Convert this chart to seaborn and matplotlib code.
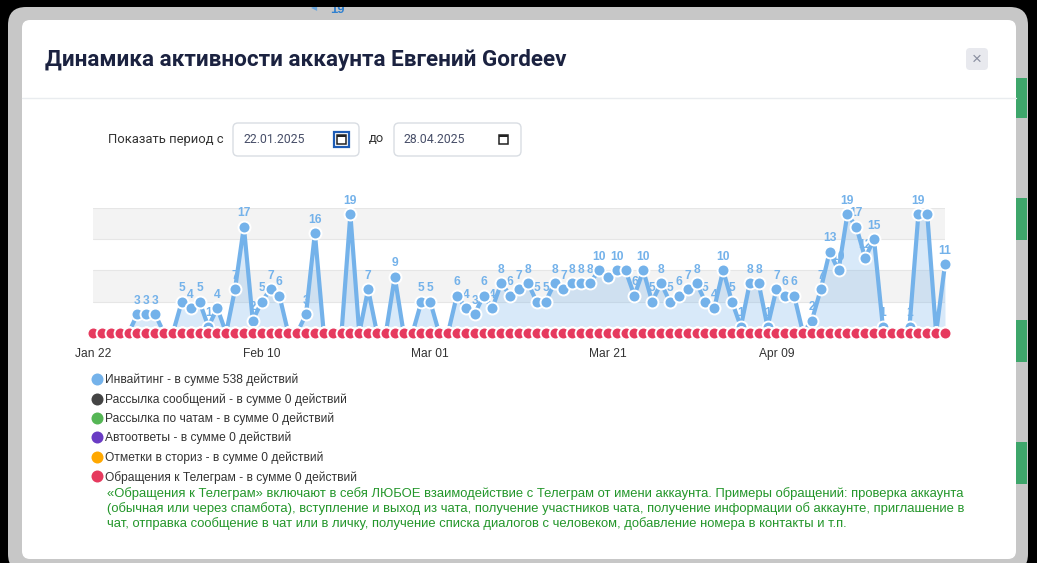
import matplotlib
matplotlib.use("Agg")
import matplotlib.pyplot as plt
from matplotlib.patches import FancyBboxPatch, Rectangle
from matplotlib.lines import Line2D
from matplotlib.transforms import IdentityTransform
import pandas as pd
import seaborn as sns

# data
start_date = "2025-01-22"
end_date = "2025-04-28"

inviting = [0, 0, 0, 0, 0, 3, 3, 3, 0, 0,
            5, 4, 5, 1, 4, 0, 7, 17, 2, 5,
            7, 6, 0, 0, 3, 16, 0, 0, 0, 19,
            0, 7, 0, 0, 9, 0, 0, 5, 5, 0,
            0, 6, 4, 3, 6, 4, 8, 6, 7, 8,
            5, 5, 8, 7, 8, 8, 8, 10, 9, 10,
            10, 6, 10, 5, 8, 5, 6, 7, 8, 5,
            4, 10, 5, 1, 8, 8, 1, 7, 6, 6,
            0, 2, 7, 13, 10, 19, 17, 12, 15, 1,
            0, 0, 1, 19, 19, 0, 11]
messages = [0] * len(inviting)
chat_mailing = [0] * len(inviting)
autoreplies = [0] * len(inviting)
story_marks = [0] * len(inviting)
telegram_requests = [0] * len(inviting)

series_names = ["Инвайтинг", "Рассылка сообщений", "Рассылка по чатам",
                "Автоответы", "Отметки в сториз", "Обращения к Телеграм"]
series_values = [inviting, messages, chat_mailing, autoreplies, story_marks, telegram_requests]
series_colors = ["#74b2ea", "#444444", "#55b655", "#6a3cc4", "#ffa800", "#e63a5e"]

tick_dates = ["2025-01-22", "2025-02-10", "2025-03-01", "2025-03-21", "2025-04-09"]
tick_labels = ["Jan 22", "Feb 10", "Mar 01", "Mar 21", "Apr 09"]

title = "Динамика активности аккаунта Евгений Gordeev"
period_from = "22.01.2025"
period_to = "28.04.2025"
note_lines = [
    "«Обращения к Телеграм» включают в себя ЛЮБОЕ взаимодействие с Телеграм от имени аккаунта. Примеры обращений: проверка аккаунта",
    "(обычная или через спамбота), вступление и выход из чата, получение участников чата, получение информации об аккаунте, приглашение в",
    "чат, отправка сообщение в чат или в личку, получение списка диалогов с человеком, добавление номера в контакты и т.п.",
]

dates = pd.date_range(start_date, end_date, freq="D")
rows = []
for name, vals in zip(series_names, series_values):
    for d, v in zip(dates, vals):
        rows.append({"date": d, "value": v, "series": name})
df = pd.DataFrame(rows)

sns.set_theme(style="white")
plt.rcParams["font.family"] = ["Liberation Sans", "DejaVu Sans"]

W, H = 1037, 563
PT = 0.72  # px -> pt at dpi 100
fig = plt.figure(figsize=(W / 100, H / 100), dpi=100, facecolor="black")
ident = IdentityTransform()


def box(x0, y0, x1, y1, r, **kw):
    p = FancyBboxPatch((x0, H - y1), x1 - x0, y1 - y0,
                       boxstyle=f"round,pad=0,rounding_size={r}", transform=ident, **kw)
    fig.add_artist(p)
    return p


def rect(x0, y0, x1, y1, **kw):
    p = Rectangle((x0, H - y1), x1 - x0, y1 - y0, transform=ident, **kw)
    fig.add_artist(p)
    return p


def text(x, y, s, size_px, **kw):
    kw.setdefault("va", "center")
    return fig.text(x, H - y, s, fontsize=size_px * PT, transform=ident, **kw)


# page behind the modal
box(8, 7, 1028, 572, 18, facecolor="#c7c7c7", edgecolor="none", zorder=0)
for y0, y1 in [(78, 118), (198, 240), (320, 362), (442, 484)]:
    rect(1016, y0, 1027, y1, facecolor="#3ea66b", edgecolor="none", zorder=0.5)
text(330, 10, "19", 13, color="#2f80d0", fontweight="bold", zorder=0.5)
text(311, 9, "◀", 8, color="#6fa8dc", zorder=0.5)
rect(290, 0, 380, 7, facecolor="black", edgecolor="none", zorder=0.6)

# modal
box(22, 20, 1016, 559, 8, facecolor="white", edgecolor="none", zorder=1)
text(45, 60, title, 22.5, color="#1b2240", fontweight="bold", family=["Roboto", "DejaVu Sans"], zorder=2)
box(966, 48, 988, 70, 4, facecolor="#e8e9ee", edgecolor="none", zorder=2)
text(977, 59, "×", 17, color="#8a8fa0", ha="center", zorder=3)
fig.add_artist(Line2D([22, 1016], [H - 98, H - 98], color="#e9ecef", lw=1, transform=ident, zorder=2))

# period inputs
ui_font = ["Roboto", "DejaVu Sans"]
text(108, 139, "Показать период с", 13, color="#333333", family=ui_font, zorder=2)
text(369, 139, "до", 13, color="#333333", family=ui_font, zorder=2)
for (x0, x1), val, focus in [((233, 359), period_from, True), ((394, 521), period_to, False)]:
    box(x0, 123, x1, 156, 5, facecolor="white", edgecolor="#d9dde3", lw=1, zorder=2)
    text(x0 + 10, 139.5, val, 12.2, color="#474e68", family=ui_font, zorder=3)
    cx = x1 - 18
    if focus:
        rect(cx - 7.5, 131.5, cx + 7.5, 146.5, facecolor="none", edgecolor="#1d5cb6", lw=1.6, zorder=3)
    rect(cx - 4.5, 134.5, cx + 4.5, 143.5, facecolor="none", edgecolor="#222222", lw=1.1, zorder=3)
    rect(cx - 4.5, 134.5, cx + 4.5, 137, facecolor="#222222", edgecolor="none", zorder=3)

# chart
ax = fig.add_axes([93 / W, (H - 333) / H, (945 - 93) / W, (333 - 208) / H], zorder=3)
ax.set_facecolor("none")
ax.axhspan(5, 10, color="#f3f3f3", zorder=0.1, lw=0)
ax.axhspan(15, 20, color="#f3f3f3", zorder=0.1, lw=0)
for g in [5, 10, 15, 20]:
    ax.axhline(g, color="#e6e6e6", lw=0.8, zorder=0.2)

ax.fill_between(dates, inviting, 0, color=series_colors[0], alpha=0.28, lw=0, zorder=1)

for i, (name, color) in enumerate(zip(series_names, series_colors)):
    sub = df[df["series"] == name]
    sns.lineplot(data=sub, x="date", y="value", ax=ax, color=color,
                 linewidth=3.0 if i == 0 else 2.0,
                 marker="o", markersize=8.6, markeredgecolor="white", markeredgewidth=1.4,
                 legend=False, clip_on=False, zorder=3 + i)

labels = []
for d, v in zip(dates, inviting):
    if v > 0:
        labels.append(ax.annotate(str(v), (d, v), xytext=(0, 9.6), textcoords="offset points",
                                  ha="center", va="center", fontsize=12 * PT, fontweight="bold",
                                  color=series_colors[0], zorder=2.5, annotation_clip=False))

ax.set_xlim(dates[0], dates[-1])
ax.set_ylim(0, 20)
ax.set_xticks(pd.to_datetime(tick_dates))
ax.set_xticklabels(tick_labels)
ax.set_yticks([])
ax.set_xlabel("")
ax.set_ylabel("")
ax.tick_params(axis="x", length=0, pad=15 * PT, labelsize=12 * PT, labelcolor="#333333")
for s in ax.spines.values():
    s.set_visible(False)

# hide overlapping data labels
fig.canvas.draw()
renderer = fig.canvas.get_renderer()
kept = []
for t in labels:
    bb = t.get_window_extent(renderer)
    if any(bb.overlaps(k) for k in kept):
        t.set_visible(False)
    else:
        kept.append(bb)

# legend
handles = [Line2D([], [], ls="none", marker="o", markersize=12 * PT, color=c, markeredgewidth=0)
           for c in series_colors]
leg_labels = [f"{n} - в сумме {sum(v)} действий" for n, v in zip(series_names, series_values)]
leg = ax.legend(handles, leg_labels, loc="upper left",
                bbox_to_anchor=(91.5 / W, 1 - 373.5 / H), bbox_transform=fig.transFigure,
                frameon=False, fontsize=12 * PT, handlelength=0.9, handletextpad=0.25,
                labelspacing=0.57, borderpad=0, borderaxespad=0)
for t in leg.get_texts():
    t.set_color("#333333")

for k, line in enumerate(note_lines):
    text(107, 493.5 + 15 * k, line, 13.05, color="#23962a", zorder=4)

fig.savefig("out.png", dpi=100, facecolor=fig.get_facecolor())
